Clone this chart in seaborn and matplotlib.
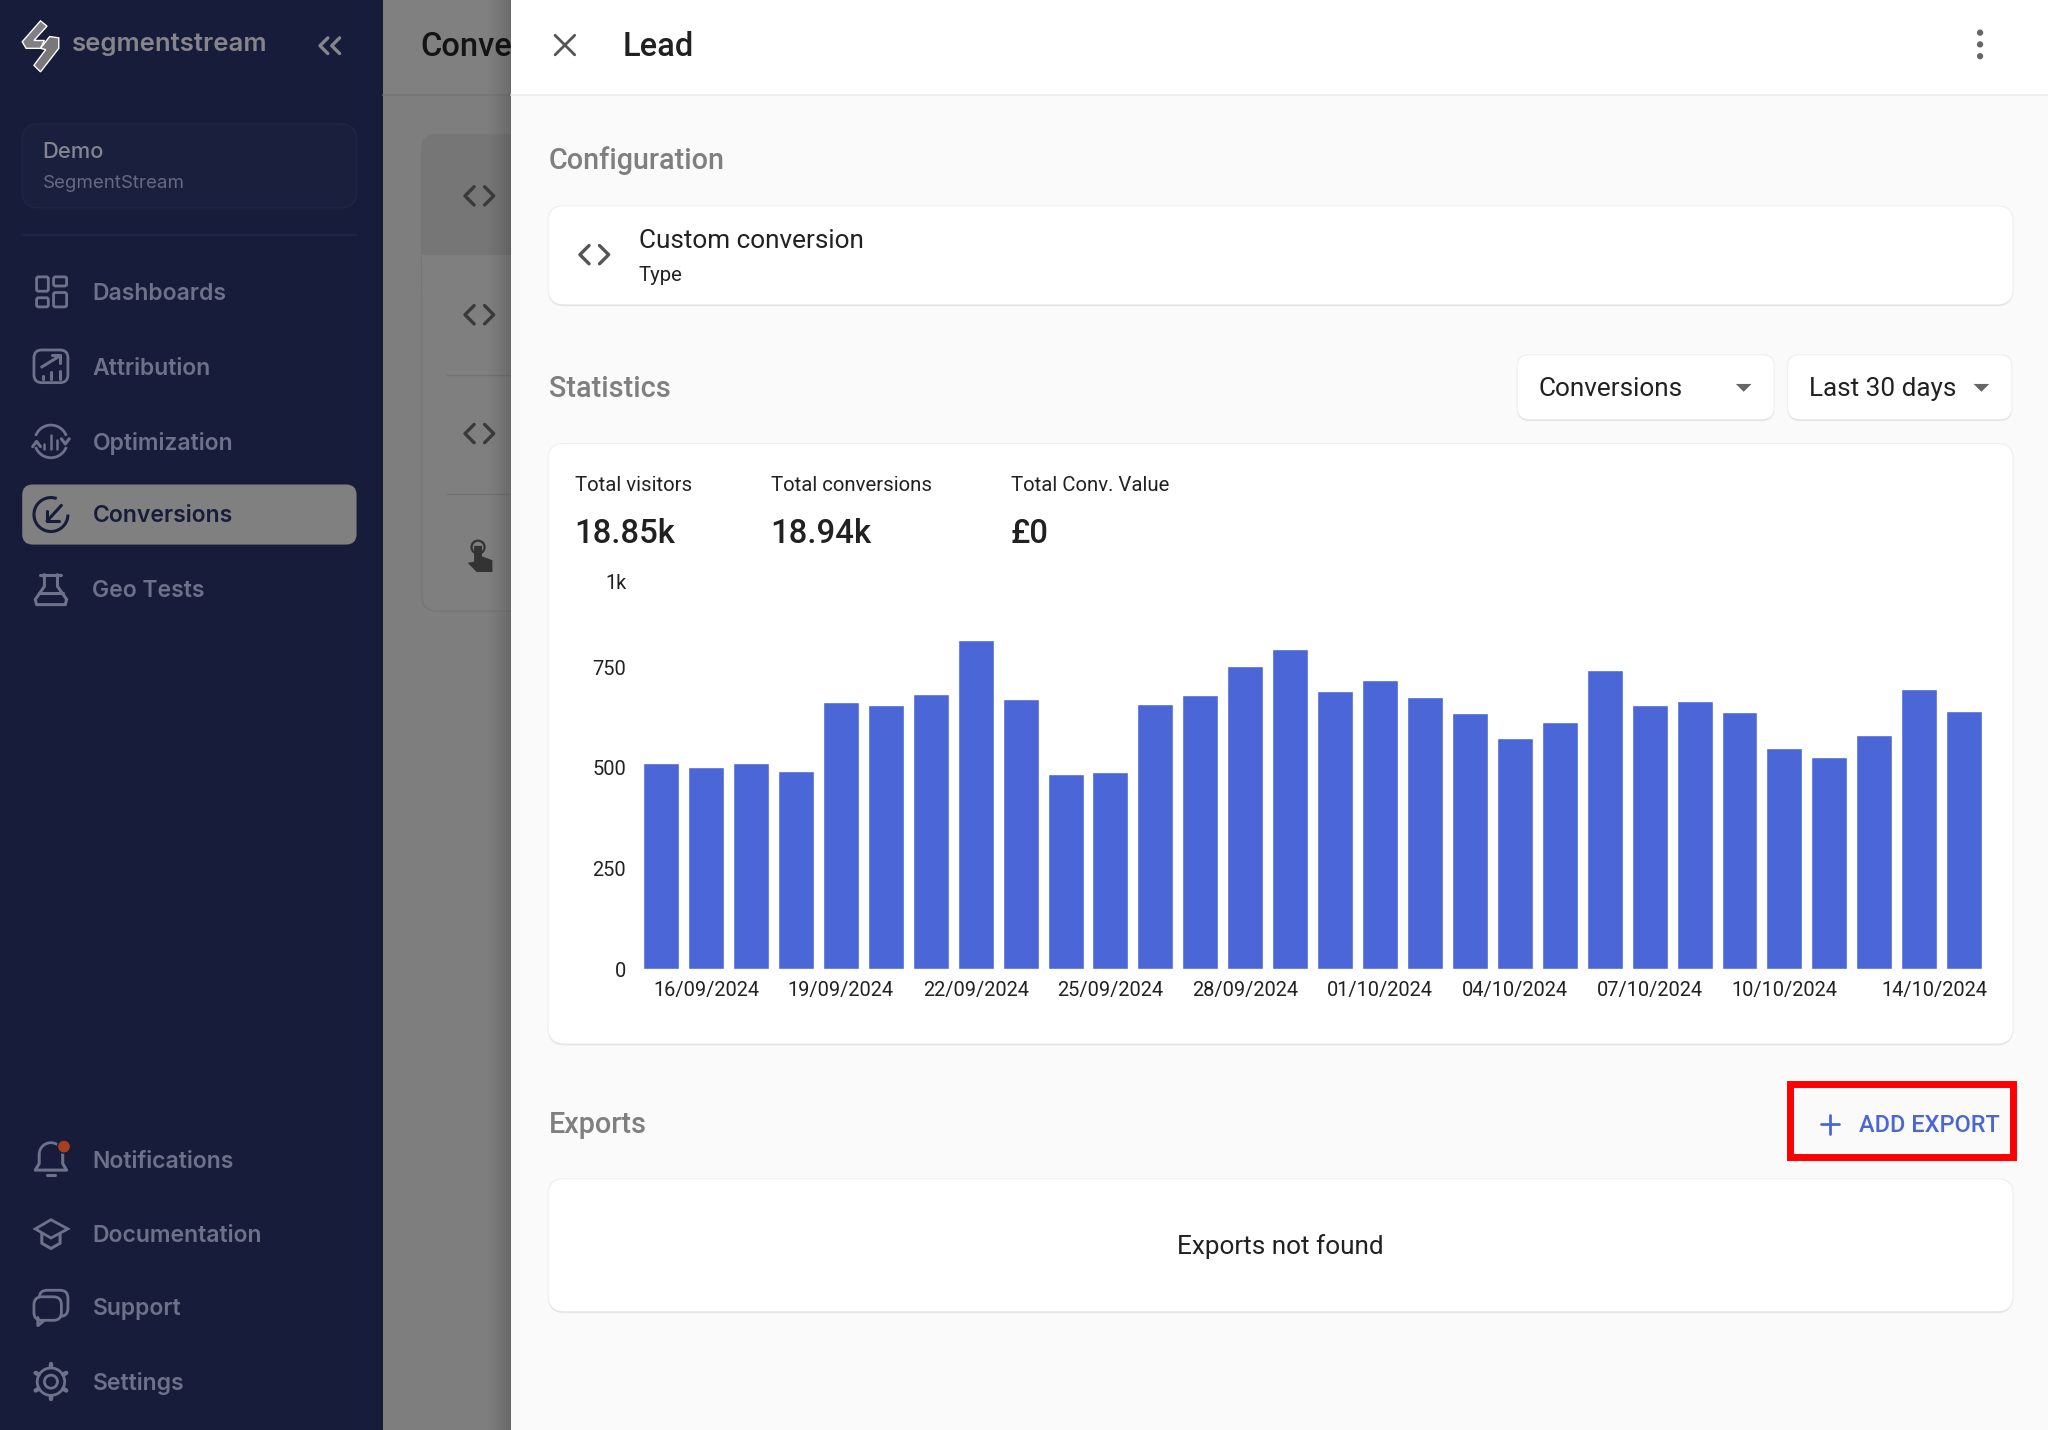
import numpy as np
import pandas as pd
import seaborn as sns
import matplotlib.pyplot as plt
from matplotlib.patches import FancyBboxPatch, Rectangle, Circle, Polygon, Arc
from matplotlib.transforms import ScaledTranslation

# bar values
dates = pd.date_range("2024-09-15", "2024-10-14").strftime("%d/%m/%Y").tolist()
conversions = [512, 503, 511, 493, 664, 656, 683, 818, 671, 485, 491, 658, 681, 753, 795,
               692, 719, 676, 636, 574, 615, 743, 656, 667, 638, 549, 528, 581, 696, 642]
tick_idx = [1, 4, 7, 10, 13, 16, 19, 22, 25, 29]
y_ticks = [0, 250, 500, 750, 1000]
y_labels = ["0", "250", "500", "750", "1k"]
stat_names = ["Total visitors", "Total conversions", "Total Conv. Value"]
stat_values = ["18.85k", "18.94k", "£0"]
stat_x = [440, 590, 774]
menu_top = ["Dashboards", "Attribution", "Optimization", "Conversions", "Geo Tests"]
menu_top_y = [224, 281, 338, 394, 451]
menu_bottom = ["Notifications", "Documentation", "Support", "Settings"]
menu_bottom_y = [888, 945, 1001, 1058]

NAVY = "#171c3a"
MENU = "#6d7189"
BLUE = "#4b66d6"
W, H = 1568, 1095   # layout units, 1 unit = 1.306 px

sns.set_theme(style="white")
plt.rcParams["font.family"] = ["Roboto", "DejaVu Sans"]

fig = plt.figure(figsize=(20.48, 14.30), dpi=100, facecolor="#fafafa")
bg = fig.add_axes([0, 0, 1, 1])
bg.set_xlim(0, W)
bg.set_ylim(H, 0)
bg.axis("off")


def rbox(x0, y0, x1, y1, r, fc, ec="none", lw=0, z=2, ax=bg):
    p = FancyBboxPatch((x0 + r, y0 + r), x1 - x0 - 2 * r, y1 - y0 - 2 * r,
                       boxstyle=f"round,pad={r},rounding_size={r}", fc=fc, ec=ec, lw=lw, zorder=z)
    ax.add_patch(p)


def card(x0, y0, x1, y1, r=12, z=5):
    # soft edge, a bit heavier at the bottom
    rbox(x0 - 0.8, y0 - 0.8, x1 + 0.8, y1 + 0.8, r, "#f0f0f0", z=z)
    rbox(x0, y0 + 1, x1, y1 + 1.5, r, "#e6e6e6", z=z)
    rbox(x0, y0, x1, y1, r, "white", z=z)


def txt(x, y, s, size, color="#212121", weight="normal", ha="left", family=None, z=6):
    bg.text(x, y + 1.8, s, fontsize=size * 0.94, color=color, fontweight=weight, ha=ha, va="center",
            family=family or ["Roboto", "DejaVu Sans"], zorder=z)


def stroke(xs, ys, color=MENU, lw=2.2, z=6):
    bg.plot(xs, ys, color=color, lw=lw, solid_capstyle="round", solid_joinstyle="round", zorder=z)


def code_icon(cx, cy, color):
    stroke([cx - 4, cx - 11, cx - 4], [cy - 7, cy, cy + 7], color, 2.4)
    stroke([cx + 4, cx + 11, cx + 4], [cy - 7, cy, cy + 7], color, 2.4)


# page layers
bg.add_patch(Rectangle((0, 0), 293, H, fc=NAVY, ec="none", zorder=1))
bg.add_patch(Rectangle((293, 0), 98, H, fc="#7e7e7e", ec="none", zorder=1))
bg.add_patch(Rectangle((293, 0), 98, 73, fc="#808080", ec="none", zorder=1))
bg.plot([293, 391], [73, 73], color="#767676", lw=1.2, zorder=2)
shade = np.zeros((1, 32, 4))
shade[0, :, 3] = np.linspace(0, 0.2, 32) ** 1.3 * 1.4
bg.imshow(shade, extent=(371, 391, H, 0), aspect="auto", zorder=4.5)
bg.set_xlim(0, W)
bg.set_ylim(H, 0)
bg.add_patch(Rectangle((391, 0), W - 391, H, fc="#fafafa", ec="none", zorder=5))

# dimmed list behind the drawer
txt(322, 34, "Conve", 25, "#141414", 500, z=4)
rbox(323, 103, 420, 468, 12, "#7f7f7f", ec="#767676", lw=1, z=2)
rbox(323, 103, 420, 210, 12, "#767676", z=2)
bg.add_patch(Rectangle((323, 195), 97, 30, fc="#7f7f7f", ec="none", zorder=2))
bg.plot([342, 391], [287, 287], color="#727272", lw=1, zorder=3)
bg.plot([342, 391], [378, 378], color="#727272", lw=1, zorder=3)
for cy in [149, 240, 331]:
    code_icon(367, cy + 1, "#3a3a3a")
bg.add_patch(Circle((366, 419), 5, fc="none", ec="#333333", lw=1.6, zorder=4))
bg.add_patch(Polygon([(363, 418), (369, 418), (369, 426), (377, 429), (377, 438), (365, 438), (358, 431), (363, 430)],
                     fc="#333333", ec="none", zorder=4))

# sidebar
bg.add_patch(Polygon([(31, 16), (36, 20), (26, 31), (34, 31), (31, 37), (20, 37), (17, 32)], fc="#808084", zorder=3))
bg.add_patch(Polygon([(38, 28), (45, 29), (45, 37), (31, 55), (26, 50), (35, 38), (31, 37)], fc="#77777c", zorder=3))
txt(55, 32, "segmentstream", 19.7, "#85858b", 600, family="Inter")
stroke([251, 245, 251], [29, 35, 41], "#85858b", 2.4)
stroke([260, 254, 260], [29, 35, 41], "#85858b", 2.4)
rbox(17, 95, 273, 159, 12, "#1a1f3e", ec="#1f2444", lw=1.2)
txt(32.5, 114.5, "Demo", 16.8, "#85858f", 500, family="Inter")
txt(33, 138.5, "SegmentStream", 14.3, "#666a80", family="Inter")
bg.plot([17, 273], [180, 180], color="#20254a", lw=1.2, zorder=3)
rbox(17, 371, 273, 417, 8, "#808080", z=3)
for name, y in zip(menu_top, menu_top_y):
    txt(70.8, y - 0.3, name, 17.6, NAVY if name == "Conversions" else MENU, 600, family="Inter")
for name, y in zip(menu_bottom, menu_bottom_y):
    txt(70.8, y - 0.3, name, 17.6, MENU, 600, family="Inter")

# sidebar icons
for x0, y0, x1, y1 in [(28, 212, 37, 223), (41, 212, 51, 219), (28, 228, 37, 235), (41, 224, 51, 235)]:
    rbox(x0, y0, x1, y1, 1.5, "none", ec=MENU, lw=2, z=6)
rbox(26, 268, 52, 293, 6, "none", ec=MENU, lw=2, z=6)
stroke([32, 45], [281, 273])
stroke([40, 46, 46], [272, 272, 278])
for x, y in [(33, 288), (39, 285), (46, 284)]:
    stroke([x, x], [y, 290])
bg.add_patch(Arc((39, 338), 25, 25, theta1=200, theta2=340, ec=MENU, lw=2, zorder=6))
bg.add_patch(Arc((39, 338), 25, 25, theta1=20, theta2=160, ec=MENU, lw=2, zorder=6))
stroke([25, 28, 31], [342, 338, 342])
stroke([47, 50, 53], [336, 340, 336])
for x, y in [(34, 340), (39, 333), (44, 337)]:
    stroke([x, x], [y, 344], lw=1.8)
bg.add_patch(Arc((39, 394), 26, 26, theta1=0, theta2=290, ec=NAVY, lw=2.2, zorder=6))
stroke([47, 36], [387, 399], NAVY)
stroke([36, 36, 45], [391, 399, 399], NAVY)
# flask
stroke([31, 47], [440, 440])
stroke([34, 34, 27, 28, 50, 51, 44, 44], [440, 449, 459, 463, 463, 459, 449, 440])
stroke([30, 48], [454, 454])
# bell
bg.add_patch(Arc((39, 884), 18, 18, theta1=180, theta2=360, ec=MENU, lw=2, zorder=6))
stroke([30, 30, 27, 51, 48, 48], [884, 891, 896, 896, 891, 884])
stroke([36, 42], [900, 900])
bg.add_patch(Circle((49, 878), 5, fc="#a8401e", ec=NAVY, lw=1, zorder=7))
bg.add_patch(Polygon([(27, 941), (39, 934), (52, 941), (39, 948)], fc="none", ec=MENU, lw=2, zorder=6))
stroke([32, 32, 39, 46, 46], [945, 952, 956, 952, 945])
rbox(30, 988, 52, 1008, 6, "none", ec=MENU, lw=2, z=6)
rbox(26, 993, 47, 1011, 6, NAVY, ec=MENU, lw=2, z=6)
stroke([29, 29, 34], [1009, 1015, 1011])
bg.add_patch(Circle((39, 1058), 5, fc="none", ec=MENU, lw=2, zorder=6))
bg.add_patch(Circle((39, 1058), 10.5, fc="none", ec=MENU, lw=2, zorder=6))
for a in np.deg2rad(np.arange(0, 360, 60) + 30):
    stroke([39 + 11 * np.cos(a), 39 + 13.5 * np.cos(a)], [1058 + 11 * np.sin(a), 1058 + 13.5 * np.sin(a)], lw=3.2)

# drawer header
bg.add_patch(Rectangle((391, 0), W - 391, 73, fc="white", ec="none", zorder=5))
bg.plot([391, W], [73, 73], color="#eeeeee", lw=1.3, zorder=5)
stroke([425, 440], [27, 42], "#555555", 2)
stroke([440, 425], [27, 42], "#555555", 2)
txt(477, 34, "Lead", 25, "#212121", 500)
for y in [25, 34, 43]:
    bg.add_patch(Circle((1516, y), 2.4, fc="#666666", ec="none", zorder=6))

# sections
txt(420, 121, "Configuration", 22, "#7f7f7f", 500)
card(420, 158, 1541, 233)
code_icon(455, 195, "#555555")
txt(489, 183, "Custom conversion", 20)
txt(489, 209, "Type", 15.5)

txt(420, 296, "Statistics", 22, "#7f7f7f", 500)
card(1162, 272, 1358, 321, r=9)
txt(1178, 296, "Conversions", 20)
bg.add_patch(Polygon([(1329, 294), (1341, 294), (1335, 300)], fc="#666666", ec="none", zorder=6))
card(1369, 272, 1540, 321, r=9)
txt(1385, 296, "Last 30 days", 20)
bg.add_patch(Polygon([(1511, 294), (1523, 294), (1517, 300)], fc="#666666", ec="none", zorder=6))

card(420, 340, 1541, 799)
for name, value, x in zip(stat_names, stat_values, stat_x):
    txt(x, 370, name, 15.6)
    txt(x, 407, value, 25.2, "#212121", 500)

txt(420, 860, "Exports", 22, "#7f7f7f", 500)
bg.add_patch(Rectangle((1370.7, 829.7), 170.6, 56.6, fc="none", ec="#ff0000", lw=5, zorder=7))
stroke([1394, 1408], [861, 861], BLUE, 2)
stroke([1401, 1401], [854, 868], BLUE, 2)
txt(1423, 860, "ADD EXPORT", 18, BLUE, 500)
card(420, 903, 1541, 1004)
txt(980, 953, "Exports not found", 20, ha="center")

# the chart itself
ax = fig.add_axes([489 / W, 1 - 742 / H, (1521 - 489) / W, (742 - 434) / H], zorder=2)
ax.patch.set_alpha(0)
sns.barplot(x=dates, y=conversions, color=BLUE, saturation=1, width=0.8, ax=ax)
ax.set_xlim(-0.5, 29.5)
ax.set_ylim(0, 1000)
ax.set_xticks(tick_idx)
ax.set_xticklabels([dates[i] for i in tick_idx])
ax.set_yticks(y_ticks)
ax.set_yticklabels(y_labels)
ax.tick_params(axis="x", length=0, pad=8.8, labelsize=14.4, labelcolor="#212121")
ax.tick_params(axis="y", length=0, pad=9, labelsize=14.4, labelcolor="#212121")
sns.despine(ax=ax, left=True, bottom=True)
ax.grid(False)

# last x label and top y label are pushed inside by the app
last = ax.get_xticklabels()[-1]
last.set_transform(last.get_transform() + ScaledTranslation(-0.30, 0, fig.dpi_scale_trans))
top = ax.get_yticklabels()[-1]
top.set_transform(top.get_transform() + ScaledTranslation(0, -0.145, fig.dpi_scale_trans))

fig.savefig("out.png", dpi=100, facecolor=fig.get_facecolor())
